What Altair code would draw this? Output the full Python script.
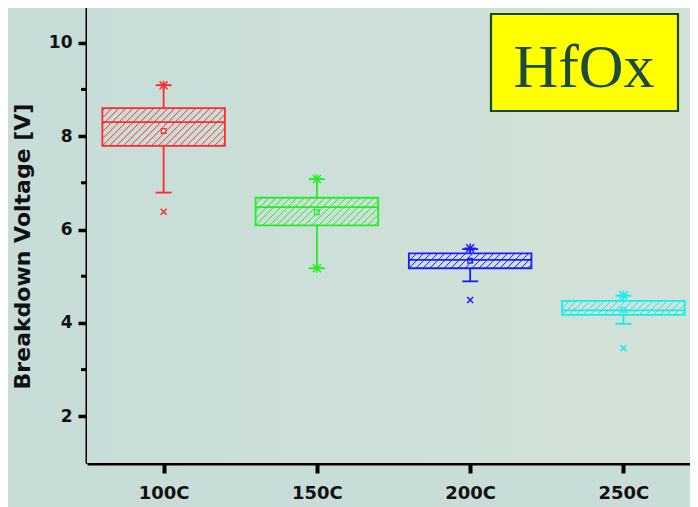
import json
import math
import altair as alt
import pandas as pd

# ---------------- data ----------------
categories = ["100C", "150C", "200C", "250C"]
colors = ["#ff2b2b", "#22ee22", "#1c1cff", "#12eef0"]
q1 = [7.79, 6.09, 5.17, 4.17]
median = [8.30, 6.48, 5.35, 4.27]
q3 = [8.60, 6.68, 5.49, 4.47]
mean = [8.11, 6.37, 5.33, 4.28]
whisk_lo = [6.79, 5.17, 4.89, 3.98]
whisk_hi = [9.09, 7.08, 5.58, 4.58]
star_marks = [[9.09], [7.08, 5.17], [5.60], [4.59]]
x_marks = [[6.38], [], [4.49], [3.46]]

y_major = [2, 4, 6, 8, 10]
y_minor = [3, 5, 7, 9]
title_text = "HfOx"

# ---------------- layout constants ----------------
W, H = 610, 467
X_DOM = [0.5, 4.48]
Y_DOM = [1, 11]
PX_X = W / (X_DOM[1] - X_DOM[0])
PX_Y = H / (Y_DOM[1] - Y_DOM[0])
HALF_BOX = 0.4
HALF_CAP = 8 / PX_X
HATCH_STEP = 7.0

pos = [i + 1 for i in range(len(categories))]
boxes = pd.DataFrame({
    "cat": categories, "pos": pos, "q1": q1, "median": median, "q3": q3,
    "mean": mean, "lo": whisk_lo, "hi": whisk_hi,
})
boxes["xl"] = boxes["pos"] - HALF_BOX
boxes["xr"] = boxes["pos"] + HALF_BOX
boxes["cl"] = boxes["pos"] - HALF_CAP
boxes["cr"] = boxes["pos"] + HALF_CAP

# hatch lines "/" clipped to each box (pixel-regular spacing)
hatch_rows = []
for i, c in enumerate(categories):
    bw = 2 * HALF_BOX * PX_X
    bh = (q3[i] - q1[i]) * PX_Y
    k0 = math.ceil(-bh / HATCH_STEP)
    k1 = math.floor(bw / HATCH_STEP)
    for k in range(k0, k1 + 1):
        cc = k * HATCH_STEP
        u0, u1 = max(0.0, cc), min(bw, bh + cc)
        if u1 - u0 < 0.5:
            continue
        hatch_rows.append({
            "cat": c,
            "x": pos[i] - HALF_BOX + u0 / PX_X,
            "x2": pos[i] - HALF_BOX + u1 / PX_X,
            "y": q1[i] + (u0 - cc) / PX_Y,
            "y2": q1[i] + (u1 - cc) / PX_Y,
        })
hatch = pd.DataFrame(hatch_rows)

stars = pd.DataFrame([{"cat": c, "pos": pos[i], "v": v}
                      for i, c in enumerate(categories) for v in star_marks[i]])
xs = pd.DataFrame([{"cat": c, "pos": pos[i], "v": v}
                   for i, c in enumerate(categories) for v in x_marks[i]])
minor_df = pd.DataFrame({"v": y_minor})
major_df = pd.DataFrame({"v": y_major})

col_scale = alt.Scale(domain=categories, range=colors)
xs_scale = alt.Scale(domain=X_DOM, nice=False, zero=False)
ys_scale = alt.Scale(domain=Y_DOM, nice=False, zero=False)

FONT = "DejaVu Sans"
label_expr = "%s[datum.value - 1]" % json.dumps(categories)

x_axis = alt.Axis(values=pos, labelExpr=label_expr, title=None, grid=False,
                  domainColor="black", domainWidth=4, tickColor="black",
                  tickWidth=4, tickSize=10, labelPadding=11, labelFont=FONT,
                  labelFontSize=18, labelFontWeight="bold", labelColor="#111")
y_axis = alt.Axis(values=y_major, title="Breakdown Voltage [V]", grid=False,
                  domainColor="black", domainWidth=4, tickColor="black",
                  tickWidth=3.5, tickSize=9, labelPadding=6, labelFont=FONT,
                  labelFontSize=17, labelFontWeight="bold", labelColor="#111",
                  titleFont=FONT, titleFontSize=22, titleFontWeight="bold",
                  titleColor="#111", titleAngle=-90, titleX=-65, titleY=250,
                  titleAlign="center", titleBaseline="middle")


def X(field):
    return alt.X(field, scale=xs_scale, axis=x_axis)


def Y(field):
    return alt.Y(field, scale=ys_scale, axis=y_axis)


COL = alt.Color("cat:N", scale=col_scale, legend=None)

base = alt.Chart(boxes)

bg_df = pd.DataFrame({"k": [0]})
bg_layer = alt.Chart(bg_df).mark_rect(
    color=alt.Gradient(gradient="linear", x1=0, y1=0, x2=1, y2=0,
                       stops=[alt.GradientStop(offset=0, color="#c8ddd9"),
                              alt.GradientStop(offset=1, color="#d3e2d7")])
).encode(x=alt.value(0), x2=alt.value(W), y=alt.value(0), y2=alt.value(H))

hatch_layer = alt.Chart(hatch).mark_rule(strokeWidth=1).encode(
    x=X("x:Q"), x2="x2:Q", y=Y("y:Q"), y2="y2:Q", color=COL,
)
box_layer = base.mark_rect(fillOpacity=0, strokeWidth=1.8).encode(
    x=X("xl:Q"), x2="xr:Q", y=Y("q1:Q"), y2="q3:Q",
    stroke=alt.Stroke("cat:N", scale=col_scale, legend=None),
)
median_layer = base.mark_rule(strokeWidth=1.8).encode(
    x=X("xl:Q"), x2="xr:Q", y=Y("median:Q"), color=COL,
)
whisk_up = base.mark_rule(strokeWidth=1.8).encode(
    x=X("pos:Q"), y=Y("q3:Q"), y2="hi:Q", color=COL,
)
whisk_dn = base.mark_rule(strokeWidth=1.8).encode(
    x=X("pos:Q"), y=Y("q1:Q"), y2="lo:Q", color=COL,
)
cap_up = base.mark_rule(strokeWidth=1.8).encode(
    x=X("cl:Q"), x2="cr:Q", y=Y("hi:Q"), color=COL,
)
cap_dn = base.mark_rule(strokeWidth=1.8).encode(
    x=X("cl:Q"), x2="cr:Q", y=Y("lo:Q"), color=COL,
)
mean_layer = base.mark_point(shape="square", filled=False, size=22,
                             strokeWidth=1.2, opacity=1).encode(
    x=X("pos:Q"), y=Y("mean:Q"), color=COL,
)
star_path = "M-1,0L1,0M0,-0.8L0,0.8M-0.7,-0.7L0.7,0.7M-0.7,0.7L0.7,-0.7"
star_layer = alt.Chart(stars).mark_point(shape=star_path, filled=False,
                                         size=130, strokeWidth=1.5, opacity=1).encode(
    x=X("pos:Q"), y=Y("v:Q"), color=COL,
)
x_path = "M-1,-1L1,1M-1,1L1,-1"
x_layer = alt.Chart(xs).mark_point(shape=x_path, filled=False, size=36,
                                   strokeWidth=1.5, opacity=1).encode(
    x=X("pos:Q"), y=Y("v:Q"), color=COL,
)

# minor ticks on the left, inward ticks on the right frame
minor_left = alt.Chart(minor_df).mark_rule(color="black", strokeWidth=3).encode(
    y=Y("v:Q"), x=alt.value(-6), x2=alt.value(0),
)
major_right = alt.Chart(major_df).mark_rule(color="black", strokeWidth=3).encode(
    y=Y("v:Q"), x=alt.value(W - 7), x2=alt.value(W),
)
minor_right = alt.Chart(minor_df).mark_rule(color="black", strokeWidth=3).encode(
    y=Y("v:Q"), x=alt.value(W - 3), x2=alt.value(W),
)

# annotation label box
label_df = pd.DataFrame({"t": [title_text]})
label_box = alt.Chart(label_df).mark_rect(
    fill="#ffff00", stroke="#174a17", strokeWidth=2.2).encode(
    x=alt.value(404), x2=alt.value(591), y=alt.value(18), y2=alt.value(115),
)
label_text = alt.Chart(label_df).mark_text(
    font="Liberation Serif", fontSize=62, color="#1d4a3b",
    align="center", baseline="alphabetic").encode(
    x=alt.value(497), y=alt.value(91), text="t:N",
)

chart = alt.layer(
    bg_layer, hatch_layer, box_layer, median_layer, whisk_up, whisk_dn,
    cap_up, cap_dn, mean_layer, star_layer, x_layer, minor_left, major_right,
    minor_right, label_box, label_text,
).properties(
    width=W, height=H,
    autosize=alt.AutoSizeParams(type="none"),
    padding={"left": 79, "top": -12, "right": -7, "bottom": 44},
    background="#c9ddd8",
).configure_view(
    stroke="#555555", strokeWidth=1.5,
)

chart.save("out.html", embed_options={"renderer": "svg", "actions": False})
